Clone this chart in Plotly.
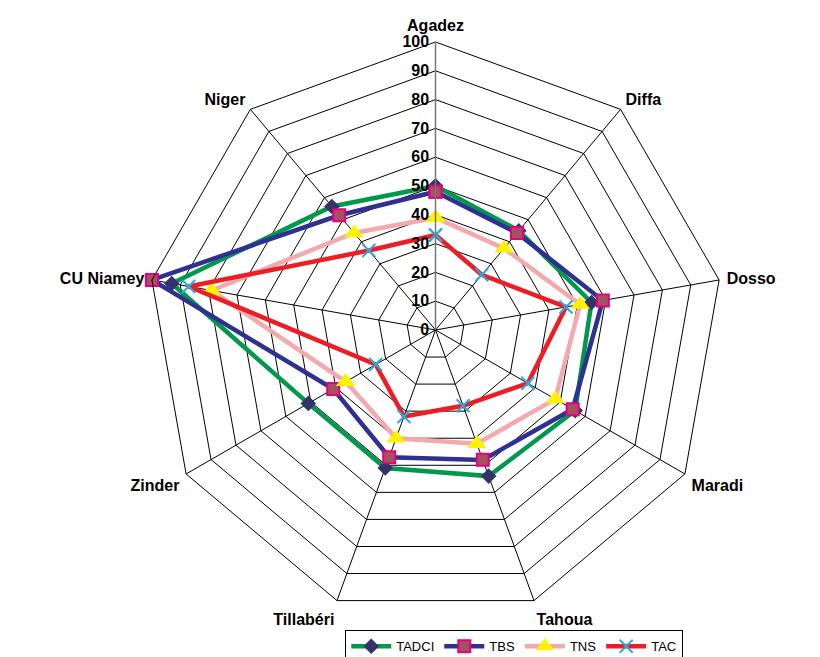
import plotly.graph_objects as go

# Regions (clockwise from the top)
regions = ["Agadez", "Diffa", "Dosso", "Maradi", "Tahoua",
           "Tillabéri", "Zinder", "CU Niamey", "Niger"]

# Rates per region (%)
tadci = [50, 45, 55, 56, 54, 51, 51, 93, 56]
tbs = [48, 44, 59, 55, 48, 47, 41, 100, 52]
tns = [39, 37, 51, 48, 42, 40, 36, 79, 44]
tac = [33, 25, 46, 37, 28, 32, 24, 87, 36]

radial_ticks = list(range(0, 101, 10))

series = [
    ("TADCI", tadci, dict(color="#00994C", width=4.5),
     dict(symbol="diamond", size=12, color="#33336B", line=dict(width=0))),
    ("TBS", tbs, dict(color="#2E3192", width=4.5),
     dict(symbol="square", size=12, color="#A3525F",
          line=dict(color="#E6007E", width=2))),
    ("TNS", tns, dict(color="#F4A9AC", width=4.5),
     dict(symbol="triangle-up", size=17, color="#FFF200", line=dict(width=0))),
    ("TAC", tac, dict(color="#EE1C25", width=4.5),
     dict(symbol="x-thin", size=13, color="#29ABE2",
          line=dict(color="#29ABE2", width=2))),
]

fig = go.Figure()
for name, vals, line, marker in series:
    fig.add_trace(go.Scatterpolar(
        r=vals + vals[:1],
        theta=regions + regions[:1],
        mode="lines+markers",
        name=name,
        line=line,
        marker=marker,
    ))

font_family = "Liberation Sans, Arial, sans-serif"

fig.update_layout(
    width=820,
    height=657,
    margin=dict(l=0, r=0, t=0, b=0, autoexpand=False),
    paper_bgcolor="white",
    font=dict(family=font_family, color="black", size=14),
    polar=dict(
        domain=dict(x=[0.1799, 0.8823], y=[0.0594, 0.9361]),
        bgcolor="white",
        gridshape="linear",
        angularaxis=dict(
            rotation=90,
            direction="clockwise",
            categoryorder="array",
            categoryarray=regions,
            showline=True,
            linecolor="black",
            linewidth=1,
            showgrid=True,
            gridcolor="black",
            gridwidth=1,
            ticks="outside",
            ticklen=4,
            tickcolor="rgba(0,0,0,0)",
            tickfont=dict(family=font_family, size=16, weight="bold"),
        ),
        radialaxis=dict(
            range=[0, 100],
            tickvals=radial_ticks,
            angle=90,
            side="counterclockwise",
            showline=True,
            linecolor="#777777",
            linewidth=1.5,
            showgrid=True,
            gridcolor="black",
            gridwidth=1,
            ticks="",
            tickangle=90,
            tickfont=dict(family=font_family, size=16, weight="bold"),
        ),
    ),
    legend=dict(
        orientation="h",
        x=0.421,
        xanchor="left",
        y=-0.008,
        yanchor="bottom",
        bordercolor="black",
        borderwidth=1,
        bgcolor="white",
        font=dict(family=font_family, size=13),
        itemwidth=40,
        tracegroupgap=0,
    ),
    showlegend=True,
)

fig.write_html("out.html")
